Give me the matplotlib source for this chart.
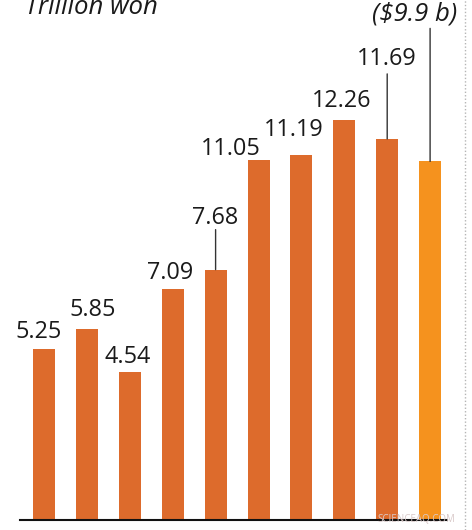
import matplotlib
matplotlib.use("Agg")
import matplotlib.pyplot as plt
from matplotlib.lines import Line2D

# values in trillion won, one bar per year (oldest -> newest)
values = [5.25, 5.85, 4.54, 7.09, 7.68, 11.05, 11.19, 12.26, 11.69, 11.0]
labels = ["5.25", "5.85", "4.54", "7.09", "7.68", "11.05", "11.19", "12.26", "11.69", "($9.9 b)"]
unit_label = "Trillion won"

# label placement (pixel offsets from bar top) and leader lines
label_dx = [-5, 6, -2, -3, 0, -28, -8, -3, 0, -15]
label_dy = [11, 13, 9, 10, 46, 5, 19, 13, 74, 141]
leader_len = [0, 0, 0, 0, 40, 0, 0, 0, 65, 133]

bar_color = "#DD6B2C"
last_color = "#F5921E"
text_color = "#1a1a1a"

plt.rcParams["font.family"] = ["Open Sans", "DejaVu Sans"]

W, H, DPI = 472, 530, 100
fig = plt.figure(figsize=(W / DPI, H / DPI), dpi=DPI)
ax = fig.add_axes([0, 0, 1, 1])

px_per_unit = 32.6
base_px = 10
step_px = 42.9
first_px = 44
ax.set_ylim(-base_px / px_per_unit, (H - base_px) / px_per_unit)
ax.set_xlim(-first_px / step_px, (W - first_px) / step_px)
ax.axis("off")

x = list(range(len(values)))
colors = [bar_color] * (len(values) - 1) + [last_color]
ax.bar(x, values, width=22 / step_px, color=colors, zorder=2)

for i, (v, lab) in enumerate(zip(values, labels)):
    italic = lab.startswith("(")
    ax.annotate(lab, xy=(i, v), xytext=(label_dx[i], label_dy[i]),
                textcoords="offset pixels", ha="center", va="baseline",
                fontsize=18.5 if italic else 16.8, color=text_color,
                fontstyle="italic" if italic else "normal", zorder=3)
    if leader_len[i]:
        ax.annotate("", xy=(i, v), xytext=(0, leader_len[i]),
                    textcoords="offset pixels",
                    arrowprops=dict(arrowstyle="-", color="#333333", lw=1.0,
                                    shrinkA=0, shrinkB=0))

# unit title, cropped at the top like the source
fig.text(25 / W, 1 - 14 / H, unit_label, fontsize=18.5, fontstyle="italic",
         color=text_color, ha="left", va="baseline")

# baseline
ax.axhline(0, xmin=20 / W, xmax=447 / W, color="#111111", lw=1.5, zorder=3)

# dotted border on the right
fig.add_artist(Line2D([465 / W, 465 / W], [0, 1], transform=fig.transFigure,
                      color="#b5b5b5", lw=1, linestyle=(0, (1, 1.5))))

# watermark
fig.text(416 / W, 10 / H, "SCIENCEAQ.COM", fontsize=7, color="#d9c9c9",
         ha="center", va="center")

fig.savefig("out.png", dpi=DPI)
